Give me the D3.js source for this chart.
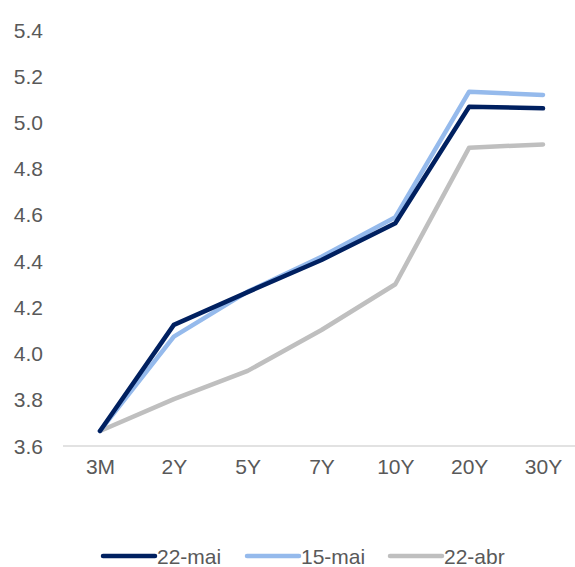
<!DOCTYPE html>
<html>
<head>
<meta charset="utf-8">
<script src="https://cdn.jsdelivr.net/npm/d3@7"></script>
<style>
  body { margin: 0; background: #fff; }
  svg { display: block; font-family: "Liberation Sans", Arial, sans-serif; }
</style>
</head>
<body>
<div id="chart"></div>
<script>
const categories = ["3M", "2Y", "5Y", "7Y", "10Y", "20Y", "30Y"];
const seriesNames = ["22-mai", "15-mai", "22-abr"];
const mai22 = [3.665, 4.124, 4.266, 4.405, 4.564, 5.068, 5.061];
const mai15 = [3.665, 4.073, 4.268, 4.419, 4.590, 5.133, 5.119];
const abr22 = [3.665, 3.803, 3.925, 4.102, 4.300, 4.891, 4.905];
const yTicks = [3.6, 3.8, 4.0, 4.2, 4.4, 4.6, 4.8, 5.0, 5.2, 5.4];
const colors = ["#002060", "#95BAEC", "#BFBFBF"];

const series = [mai22, mai15, abr22].map((vals, i) => ({ name: seriesNames[i], vals, color: colors[i] }));

const width = 575, height = 567;
const svg = d3.select("#chart").append("svg")
    .attr("width", width).attr("height", height);

const x = d3.scalePoint().domain(categories).range([100, 543]);
const y = d3.scaleLinear().domain([3.6, 5.4]).range([446, 30]);

// y tick labels (no axis line)
svg.append("g").selectAll("text").data(yTicks).enter().append("text")
    .attr("x", 43).attr("y", d => y(d))
    .attr("dy", "0.36em")
    .attr("text-anchor", "end")
    .attr("font-size", "21px")
    .attr("fill", "#595959")
    .text(d => d.toFixed(1));

// x axis
const xAxis = svg.append("g")
    .attr("transform", `translate(0,${y(3.6)})`)
    .call(d3.axisBottom(x).tickSize(0).tickPadding(13));
xAxis.select(".domain").attr("d", "M63,0H581").attr("stroke", "#D9D9D9").attr("stroke-width", 1.5);
xAxis.selectAll("text").attr("font-size", "21px").attr("fill", "#595959")
    .attr("font-family", "\"Liberation Sans\", Arial, sans-serif");

// lines, drawn back to front
const line = d3.line().x((d, i) => x(categories[i])).y(d => y(d));
svg.append("g").selectAll("path").data(series.slice().reverse()).enter().append("path")
    .attr("d", d => line(d.vals))
    .attr("fill", "none")
    .attr("stroke", d => d.color)
    .attr("stroke-width", 4.5)
    .attr("stroke-linejoin", "round")
    .attr("stroke-linecap", "round");

// legend
const legendX = [103, 247, 390];
const lg = svg.append("g").selectAll("g").data(series).enter().append("g")
    .attr("transform", (d, i) => `translate(${legendX[i]},556)`);
lg.append("line")
    .attr("x1", 0).attr("x2", 52)
    .attr("stroke", d => d.color)
    .attr("stroke-width", 4.5)
    .attr("stroke-linecap", "round");
lg.append("text")
    .attr("x", 54).attr("dy", "0.36em")
    .attr("font-size", "21px")
    .attr("fill", "#595959")
    .text(d => d.name);
</script>
</body>
</html>
